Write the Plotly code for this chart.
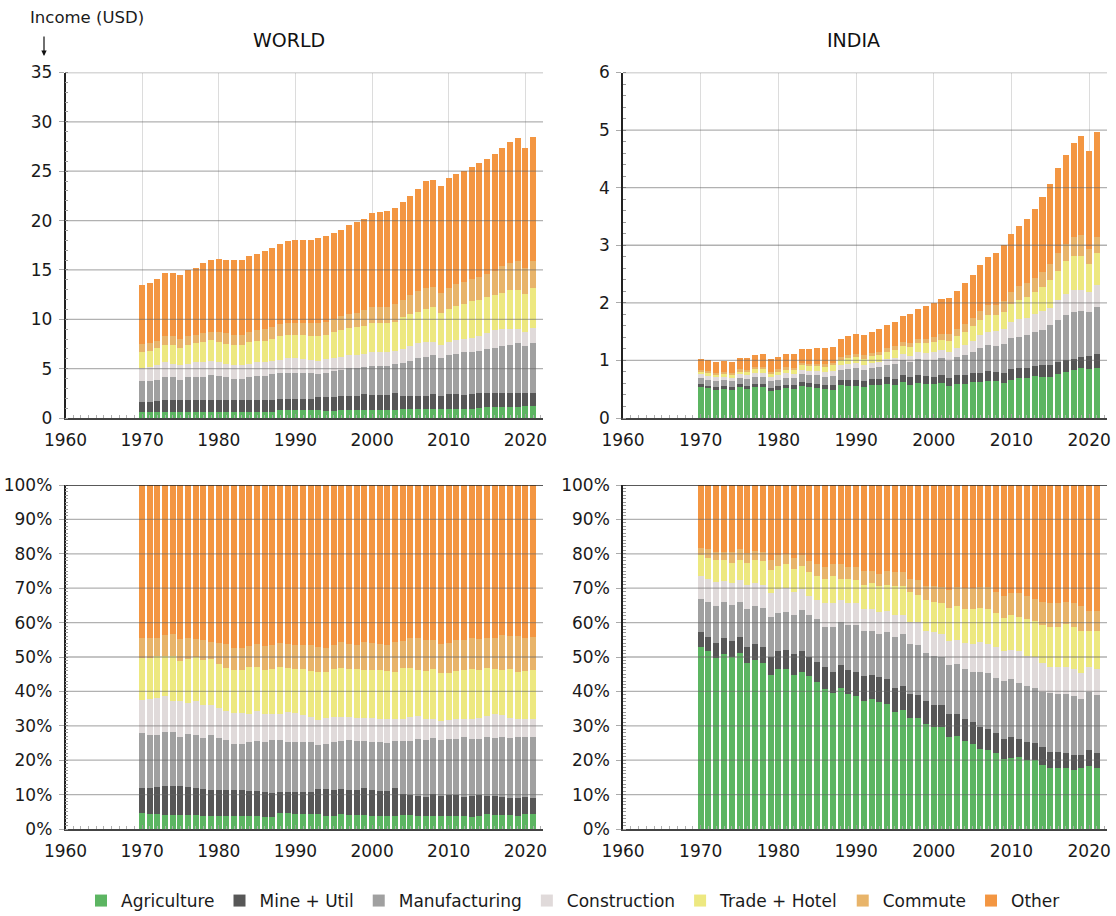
import plotly.graph_objects as go

years = list(range(1970, 2022))
categories = ["Agriculture", "Mine + Util", "Manufacturing", "Construction",
              "Trade + Hotel", "Commute", "Other"]
colors = ["#5cb562", "#575757", "#a0a0a0", "#e0dada", "#ede880", "#e8b46a", "#f39642"]

# ---- WORLD, income per capita by sector (USD) ----
world_agriculture = [0.61, 0.61, 0.61, 0.61, 0.61, 0.61, 0.61, 0.61, 0.61, 0.61,
                     0.61, 0.61, 0.61, 0.61, 0.61, 0.61, 0.61, 0.61, 0.81, 0.81,
                     0.81, 0.81, 0.81, 0.81, 0.71, 0.71, 0.81, 0.81, 0.81, 0.81,
                     0.81, 0.81, 0.81, 0.81, 0.91, 0.91, 0.91, 0.91, 0.91, 0.91,
                     0.91, 0.91, 0.91, 0.91, 1.01, 1.11, 1.11, 1.11, 1.11, 1.11,
                     1.22, 1.22]
world_mine = [1.01, 1.01, 1.11, 1.22, 1.22, 1.22, 1.22, 1.22, 1.22, 1.22,
              1.22, 1.22, 1.22, 1.22, 1.22, 1.22, 1.22, 1.22, 1.11, 1.11,
              1.11, 1.11, 1.11, 1.32, 1.42, 1.42, 1.42, 1.42, 1.42, 1.62,
              1.52, 1.52, 1.52, 1.72, 1.32, 1.32, 1.32, 1.32, 1.52, 1.32,
              1.52, 1.52, 1.42, 1.52, 1.52, 1.42, 1.42, 1.42, 1.42, 1.42,
              1.32, 1.32]
world_manufacturing = [2.13, 2.13, 2.13, 2.33, 2.33, 2.03, 2.33, 2.33, 2.33, 2.53,
                       2.43, 2.33, 2.13, 2.13, 2.33, 2.43, 2.43, 2.64, 2.64, 2.64,
                       2.64, 2.64, 2.64, 2.33, 2.43, 2.64, 2.64, 2.84, 2.84, 2.74,
                       2.94, 2.94, 2.94, 2.94, 3.34, 3.55, 3.85, 3.95, 3.95, 3.85,
                       3.95, 4.05, 4.36, 4.26, 4.26, 4.46, 4.56, 4.76, 4.86, 5.07,
                       4.76, 5.07]
world_construction = [1.32, 1.42, 1.52, 1.52, 1.32, 1.52, 1.32, 1.52, 1.52, 1.42,
                      1.42, 1.32, 1.42, 1.42, 1.32, 1.42, 1.42, 1.32, 1.32, 1.52,
                      1.52, 1.42, 1.32, 1.32, 1.42, 1.32, 1.32, 1.32, 1.32, 1.32,
                      1.42, 1.42, 1.42, 1.32, 1.45, 1.52, 1.52, 1.52, 1.32, 1.32,
                      1.32, 1.42, 1.35, 1.45, 1.52, 1.62, 1.86, 1.76, 1.66, 1.45,
                      1.42, 1.52]
world_trade = [1.62, 1.62, 1.72, 1.72, 1.93, 1.72, 1.93, 1.93, 2.06, 2.13,
               2.03, 2.03, 2.03, 2.03, 2.23, 2.13, 2.13, 2.23, 2.43, 2.33,
               2.33, 2.43, 2.43, 2.53, 2.43, 2.64, 2.74, 2.74, 2.84, 2.84,
               2.94, 2.94, 2.94, 2.94, 3.21, 3.24, 3.14, 3.34, 3.55, 3.24,
               3.34, 3.45, 3.51, 3.72, 3.65, 3.65, 3.51, 3.61, 3.92, 3.92,
               3.85, 4.05]
world_commute = [0.81, 0.81, 0.71, 0.91, 0.91, 0.91, 0.91, 0.81, 0.88, 0.81,
                 1.01, 1.11, 1.01, 1.01, 1.01, 1.11, 1.22, 1.22, 1.22, 1.22,
                 1.22, 1.22, 1.32, 1.32, 1.32, 1.32, 1.42, 1.42, 1.42, 1.62,
                 1.62, 1.62, 1.62, 1.82, 1.72, 1.93, 2.13, 2.13, 2.03, 2.03,
                 2.13, 2.23, 2.23, 2.23, 2.33, 2.33, 2.43, 2.74, 2.74, 2.94,
                 2.64, 2.74]
world_other = [5.98, 6.08, 6.28, 6.39, 6.39, 6.49, 6.69, 6.79, 7.09, 7.30,
               7.40, 7.40, 7.60, 7.60, 7.70, 7.70, 7.91, 8.01, 8.11, 8.31,
               8.41, 8.41, 8.41, 8.61, 8.72, 8.72, 8.72, 9.02, 9.22, 9.22,
               9.53, 9.63, 9.73, 9.73, 9.93, 10.03, 10.34, 10.84, 10.84, 10.84,
               11.15, 11.15, 11.25, 11.35, 11.55, 11.66, 11.86, 11.96, 12.26, 12.47,
               12.16, 12.57]

# ---- INDIA, income per capita by sector (USD) ----
india_agriculture = [0.546, 0.523, 0.488, 0.504, 0.491, 0.538, 0.507, 0.541, 0.536, 0.461,
                     0.494, 0.517, 0.497, 0.548, 0.534, 0.522, 0.497, 0.491, 0.566, 0.562,
                     0.561, 0.541, 0.567, 0.572, 0.590, 0.569, 0.618, 0.581, 0.614, 0.597,
                     0.591, 0.615, 0.560, 0.599, 0.599, 0.618, 0.617, 0.642, 0.635, 0.612,
                     0.660, 0.699, 0.693, 0.728, 0.716, 0.715, 0.764, 0.804, 0.825, 0.862,
                     0.854, 0.875]
india_mine = [0.045, 0.041, 0.042, 0.047, 0.045, 0.049, 0.049, 0.052, 0.052, 0.055,
              0.055, 0.061, 0.068, 0.073, 0.067, 0.071, 0.079, 0.076, 0.090, 0.100,
              0.102, 0.104, 0.105, 0.113, 0.118, 0.115, 0.123, 0.126, 0.127, 0.131,
              0.127, 0.132, 0.140, 0.141, 0.150, 0.159, 0.170, 0.170, 0.166, 0.174,
              0.195, 0.173, 0.183, 0.181, 0.199, 0.199, 0.213, 0.210, 0.205, 0.196,
              0.218, 0.229]
india_manufacturing = [0.098, 0.102, 0.106, 0.101, 0.103, 0.106, 0.116, 0.121, 0.125, 0.119,
                       0.117, 0.122, 0.127, 0.143, 0.146, 0.153, 0.142, 0.162, 0.175, 0.187,
                       0.199, 0.190, 0.192, 0.194, 0.220, 0.249, 0.265, 0.261, 0.276, 0.271,
                       0.283, 0.288, 0.297, 0.320, 0.342, 0.361, 0.424, 0.455, 0.455, 0.507,
                       0.539, 0.543, 0.559, 0.576, 0.613, 0.694, 0.729, 0.781, 0.816, 0.794,
                       0.775, 0.830]
india_construction = [0.070, 0.068, 0.069, 0.063, 0.063, 0.068, 0.071, 0.074, 0.074, 0.072,
                      0.074, 0.078, 0.073, 0.073, 0.066, 0.067, 0.085, 0.087, 0.088, 0.092,
                      0.093, 0.093, 0.096, 0.099, 0.099, 0.105, 0.101, 0.117, 0.129, 0.125,
                      0.139, 0.139, 0.146, 0.155, 0.176, 0.202, 0.231, 0.234, 0.257, 0.261,
                      0.268, 0.310, 0.300, 0.326, 0.322, 0.305, 0.339, 0.356, 0.377, 0.372,
                      0.339, 0.383]
india_trade = [0.060, 0.062, 0.060, 0.060, 0.057, 0.061, 0.069, 0.074, 0.078, 0.068,
               0.071, 0.078, 0.074, 0.080, 0.084, 0.085, 0.084, 0.097, 0.084, 0.099,
               0.096, 0.102, 0.114, 0.118, 0.123, 0.139, 0.151, 0.153, 0.148, 0.176,
               0.173, 0.186, 0.201, 0.214, 0.232, 0.254, 0.262, 0.285, 0.283, 0.288,
               0.325, 0.330, 0.373, 0.380, 0.421, 0.475, 0.508, 0.571, 0.582, 0.598,
               0.487, 0.547]
india_commute = [0.023, 0.026, 0.025, 0.023, 0.031, 0.034, 0.030, 0.029, 0.029, 0.031,
                 0.034, 0.032, 0.036, 0.038, 0.038, 0.043, 0.043, 0.043, 0.061, 0.050,
                 0.055, 0.059, 0.053, 0.054, 0.066, 0.068, 0.069, 0.070, 0.082, 0.080,
                 0.094, 0.097, 0.109, 0.124, 0.140, 0.149, 0.162, 0.179, 0.174, 0.192,
                 0.204, 0.233, 0.231, 0.232, 0.257, 0.284, 0.304, 0.292, 0.334, 0.358,
                 0.269, 0.288]
india_other = [0.188, 0.188, 0.190, 0.192, 0.190, 0.194, 0.207, 0.210, 0.215, 0.224,
               0.215, 0.222, 0.235, 0.244, 0.264, 0.279, 0.290, 0.284, 0.316, 0.340,
               0.345, 0.361, 0.374, 0.400, 0.403, 0.424, 0.452, 0.491, 0.524, 0.571,
               0.583, 0.613, 0.637, 0.656, 0.702, 0.747, 0.784, 0.826, 0.889, 0.966,
               0.998, 1.042, 1.111, 1.198, 1.302, 1.389, 1.484, 1.554, 1.631, 1.720,
               1.698, 1.819]

world_series = [world_agriculture, world_mine, world_manufacturing, world_construction,
                world_trade, world_commute, world_other]
india_series = [india_agriculture, india_mine, india_manufacturing, india_construction,
                india_trade, india_commute, india_other]


def shares(series):
    totals = [sum(col) for col in zip(*series)]
    return [[v / t * 100 for v, t in zip(s, totals)] for s in series]


world_pct = shares(world_series)
india_pct = shares(india_series)

FONT = "'DejaVu Sans', sans-serif"
TXT = "#1a1a1a"
fig = go.Figure()

panels = [("x", "y", world_series, True), ("x2", "y2", india_series, False),
          ("x3", "y3", world_pct, False), ("x4", "y4", india_pct, False)]
for xa, ya, series, show in panels:
    for name, col, vals in zip(categories, colors, series):
        fig.add_trace(go.Bar(x=years, y=vals, name=name, marker=dict(color=col, line=dict(width=0)),
                             xaxis=xa, yaxis=ya, legendgroup=name, showlegend=show))

xdom_l = [65.5 / 1116, 543 / 1116]
xdom_r = [623 / 1116, 1107 / 1116]
ydom_t = [1 - 418 / 916, 1 - 72.5 / 916]
ydom_b = [1 - 829 / 916, 1 - 485 / 916]


def xax(domain, anchor):
    return dict(domain=domain, anchor=anchor, range=[1960, 2022.3], tick0=1960, dtick=10,
                automargin=False,
                showgrid=True, gridcolor="#dcdcdc", gridwidth=1, zeroline=False,
                showline=True, linecolor="#444444", linewidth=1.5,
                ticks="inside", ticklen=4, tickcolor="#9a9a9a", ticklabelstandoff=6,
                minor=dict(dtick=1, ticks="inside", ticklen=3, tickcolor="#b0b0b0", showgrid=False),
                tickfont=dict(size=17, color=TXT, family=FONT), layer="above traces",
                fixedrange=True)


def yax(domain, anchor, rng, dtick, mdt, suffix=""):
    return dict(domain=domain, anchor=anchor, range=rng, dtick=dtick, tick0=0,
                automargin=False,
                showgrid=False, zeroline=False, showline=True, linecolor="#222222", linewidth=1.5,
                ticks="outside", ticklen=5, tickcolor="#aaaaaa", ticksuffix=suffix,
                ticklabelstandoff=3,
                minor=dict(dtick=mdt, ticks="inside", ticklen=3, tickcolor="#9a9a9a", showgrid=False),
                tickfont=dict(size=17, color=TXT, family=FONT), layer="above traces",
                fixedrange=True)


shapes = []


def grid(xa, ya, values, top=None):
    xref = xa + " domain"
    for v in values:
        shapes.append(dict(type="line", xref=xref, yref=ya, x0=0, x1=1, y0=v, y1=v,
                           line=dict(color="rgba(100,100,100,0.5)", width=1.3), layer="above"))
    if top is not None:
        shapes.append(dict(type="line", xref=xref, yref=ya, x0=0, x1=1, y0=top, y1=top,
                           line=dict(color="#222222", width=1.3), layer="above"))


grid("x", "y", [5, 10, 15, 20, 25, 30, 35])
grid("x2", "y2", [1, 2, 3, 4, 5, 6])
grid("x3", "y3", [10, 20, 30, 40, 50, 60, 70, 80, 90], top=100)
grid("x4", "y4", [10, 20, 30, 40, 50, 60, 70, 80, 90], top=100)

annotations = [
    dict(text="WORLD", x=289 / 1116, y=1 - 40 / 916, xref="paper", yref="paper",
         showarrow=False, xanchor="center", yanchor="middle",
         font=dict(size=19, color="#111111", family=FONT)),
    dict(text="INDIA", x=853 / 1116, y=1 - 40 / 916, xref="paper", yref="paper",
         showarrow=False, xanchor="center", yanchor="middle",
         font=dict(size=19, color="#111111", family=FONT)),
    dict(text="Income (USD)", x=87 / 1116, y=1 - 18 / 916, xref="paper", yref="paper",
         showarrow=False, xanchor="center", yanchor="middle",
         font=dict(size=16.5, color=TXT, family=FONT)),
    dict(text="", x=44 / 1116, y=1 - 56 / 916, xref="paper", yref="paper",
         showarrow=True, ax=0, ay=-21, arrowhead=2, arrowsize=0.9, arrowwidth=1.2,
         arrowcolor="#111111"),
]

fig.update_layout(
    width=1116, height=916,
    margin=dict(l=0, r=0, t=0, b=0, autoexpand=False),
    paper_bgcolor="white", plot_bgcolor="white",
    barmode="stack", bargap=0.22,
    font=dict(family=FONT, size=17, color=TXT),
    xaxis=xax(xdom_l, "y"), xaxis2=xax(xdom_r, "y2"),
    xaxis3=xax(xdom_l, "y3"), xaxis4=xax(xdom_r, "y4"),
    yaxis=yax(ydom_t, "x", [0, 35], 5, 1),
    yaxis2=yax(ydom_t, "x2", [0, 6], 1, 0.2),
    yaxis3=yax(ydom_b, "x3", [0, 100], 10, 1, "%"),
    yaxis4=yax(ydom_b, "x4", [0, 100], 10, 1, "%"),
    shapes=shapes, annotations=annotations,
    showlegend=True,
    legend=dict(orientation="h", x=573 / 1116, xanchor="center", y=1 - 901 / 916, yanchor="middle",
                font=dict(size=17, color=TXT, family=FONT), traceorder="normal",
                itemwidth=30, bgcolor="rgba(0,0,0,0)"),
)

fig.write_html(
    "out.html",
    config={"displayModeBar": False},
    post_script="document.body.style.margin='0';document.body.style.padding='0';"
                "document.body.style.overflow='hidden';",
)
